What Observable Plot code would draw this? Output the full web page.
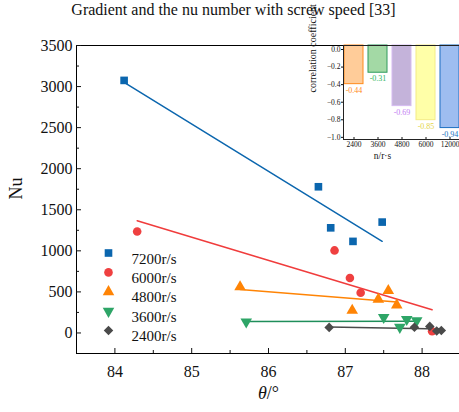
<!DOCTYPE html>
<html><head><meta charset="utf-8">
<script src="https://cdn.jsdelivr.net/npm/d3@7"></script>
<script src="https://cdn.jsdelivr.net/npm/@observablehq/plot@0.6"></script>
<style>
html,body{margin:0;padding:0;background:#fff;overflow:hidden;}
#wrap{position:relative;width:459px;height:412px;overflow:hidden;font-family:"Liberation Serif","Times New Roman",serif;}
#title{height:20px;line-height:20px;font-size:16px;text-align:center;padding-left:8px;white-space:nowrap;color:#111;}
#inset{position:absolute;left:300px;top:38px;width:170px;}
#wrap svg{overflow:visible;max-width:none !important;}
</style></head><body>
<div id="wrap"><div id="title">Gradient and the nu number with screw speed [33]</div><div id="main"></div><div id="inset"></div></div>
<script>
// ---- main chart data ----
const seriesNames = ["7200r/s", "6000r/s", "4800r/s", "3600r/s", "2400r/s"];
const theta7200 = [84.12, 86.65, 86.81, 87.10, 87.48];
const nu7200    = [3075, 1780, 1280, 1115, 1350];
const theta6000 = [84.29, 86.86, 87.06, 87.20, 88.13];
const nu6000    = [1235, 1005, 670, 490, 20];
const theta4800 = [85.63, 87.09, 87.43, 87.56, 87.67];
const nu4800    = [560, 275, 410, 515, 340];
const theta3600 = [85.71, 87.50, 87.71, 87.80, 87.93];
const nu3600    = [135, 190, 70, 165, 150];
const theta2400 = [86.79, 87.90, 88.10, 88.19, 88.25];
const nu2400    = [68, 70, 80, 25, 30];
const xTicks = [84, 85, 86, 87, 88];
const xMinorTicks = [84.5, 85.5, 86.5, 87.5];
const yTicks = [0, 500, 1000, 1500, 2000, 2500, 3000, 3500];
const yMinorTicks = [250, 750, 1250, 1750, 2250, 2750, 3250];
const xDomain = [83.5, 88.5];
const yDomain = [-250, 3500];

// ---- inset data ----
const insetSpeeds = ["2400", "3600", "4800", "6000", "12000"];
const insetCorr = [-0.44, -0.31, -0.69, -0.85, -0.94];
const insetYTicks = [0, -0.2, -0.4, -0.6, -0.8, -1.0];

// ---- styles ----
const seriesColors = ["#0B66AE", "#EF4040", "#FF8405", "#2EA567", "#4A4A4A"];
const lineColors   = ["#0B66AE", "#F03C3C", "#FF8405", "#1F8E5A", "#4A4A4A"];
const seriesSymbols = ["square", "circle", "triangle", "triangle", "diamond2"];
const seriesRotate = [0, 0, 0, 180, 0];
const insetFills = ["#FFCC99", "#A3D9A5", "#C4B3DA", "#FFFFA8", "#9EBDF0"];
const insetStrokes = ["#FF8A1A", "#2E9A5C", "#D6BBF2", "#F4EC86", "#1C6FC2"];
const insetLabelColors = ["#FF8A1A", "#2DB35C", "#C27EF2", "#E3D545", "#2070C0"];

const thetas = [theta7200, theta6000, theta4800, theta3600, theta2400];
const nus = [nu7200, nu6000, nu4800, nu3600, nu2400];
const series = seriesNames.map((name, i) => thetas[i].map((t, j) => ({series: name, theta: t, nu: nus[i][j]})));

const marks = [
  Plot.ruleX([xDomain[0]], {stroke: "#000", strokeWidth: 1}),
  Plot.ruleY([yDomain[0]], {stroke: "#000", strokeWidth: 1}),
  Plot.ruleY([yDomain[1]], {stroke: "#000", strokeWidth: 1}),
  Plot.axisX({ticks: xTicks, tickSize: -5, tickPadding: 17, fontSize: 16, label: null, tickFormat: d3.format("d")}),
  Plot.axisX({ticks: xMinorTicks, tickSize: -3, tickFormat: () => "", label: null}),
  Plot.axisY({ticks: yTicks, tickSize: -5, tickPadding: 9, fontSize: 16, label: null, tickFormat: d3.format("d")}),
  Plot.axisY({ticks: yMinorTicks, tickSize: -3, tickFormat: () => "", label: null}),
  Plot.text(["Nu"], {frameAnchor: "left", dx: -60, rotate: -90, fontSize: 18}),
  Plot.text(["θ/°"], {frameAnchor: "bottom", dy: 45, fontSize: 18})
];
series.forEach((data, i) => {
  marks.push(Plot.linearRegressionY(data, {x: "theta", y: "nu", stroke: lineColors[i], strokeWidth: 1.5, ci: 0}));
});
series.forEach((data, i) => {
  marks.push(Plot.dot(data, {x: "theta", y: "nu", symbol: seriesSymbols[i], r: 4.3, fill: seriesColors[i], stroke: "none", rotate: seriesRotate[i]}));
});
seriesNames.forEach((name, i) => {
  marks.push(Plot.dot([name], {frameAnchor: "top-left", dx: 32, dy: 207.5 + i * 19.4, symbol: seriesSymbols[i], r: 4.3, fill: seriesColors[i], stroke: "none", rotate: seriesRotate[i]}));
  marks.push(Plot.text([name], {frameAnchor: "top-left", dx: 55, dy: 207.5 + i * 19.4, textAnchor: "start", fontSize: 15, fill: "#111"}));
});

const main = Plot.plot({
  width: 470, height: 392,
  marginLeft: 76, marginRight: 10, marginTop: 25, marginBottom: 59,
  style: {fontFamily: '"Liberation Serif","Times New Roman",serif', fontSize: "16px", color: "#111", background: "transparent", maxWidth: "none"},
  x: {domain: xDomain},
  y: {domain: yDomain},
  marks
});
document.getElementById("main").appendChild(main);
// italic theta
d3.select(main).selectAll("text").filter(function() { return this.textContent === "θ/°"; })
  .html('<tspan font-style="italic">θ</tspan>/°');

// ---- inset ----
const insetData = insetSpeeds.map((s, i) => ({speed: s, r: insetCorr[i], fill: insetFills[i], stroke: insetStrokes[i], label: insetLabelColors[i]}));
const inset = Plot.plot({
  width: 170, height: 123,
  marginLeft: 43, marginRight: 9, marginTop: 7, marginBottom: 22,
  style: {fontFamily: '"Liberation Serif","Times New Roman",serif', fontSize: "8px", color: "#111", background: "transparent", maxWidth: "none"},
  x: {type: "band", domain: insetSpeeds, paddingInner: 0.2, paddingOuter: 0.02},
  y: {domain: [-1.07, 0]},
  marks: [
    Plot.barY(insetData, {x: "speed", y: "r", fill: d => d.fill, stroke: d => d.stroke, strokeWidth: 1}),
    Plot.text(insetData, {x: "speed", y: "r", text: d => d.r.toFixed(2), fill: d => d.label, dy: 6, fontSize: 8}),
    Plot.frame({stroke: "#222"}),
    Plot.axisY({ticks: insetYTicks, tickSize: 2, tickPadding: 1, fontSize: 7.5, dy: 4, label: null, tickFormat: d3.format(".1f")}),
    Plot.axisX({tickSize: -2, tickPadding: 4, fontSize: 7.5, label: null}),
    Plot.text(["n/r·s"], {frameAnchor: "bottom", dx: -20, dy: 19, fontSize: 9.5}),
    Plot.text(["correlation coefficient"], {frameAnchor: "left", dx: -31, dy: 0, rotate: -90, fontSize: 10})
  ]
});
document.getElementById("inset").appendChild(inset);
</script>
</body></html>
